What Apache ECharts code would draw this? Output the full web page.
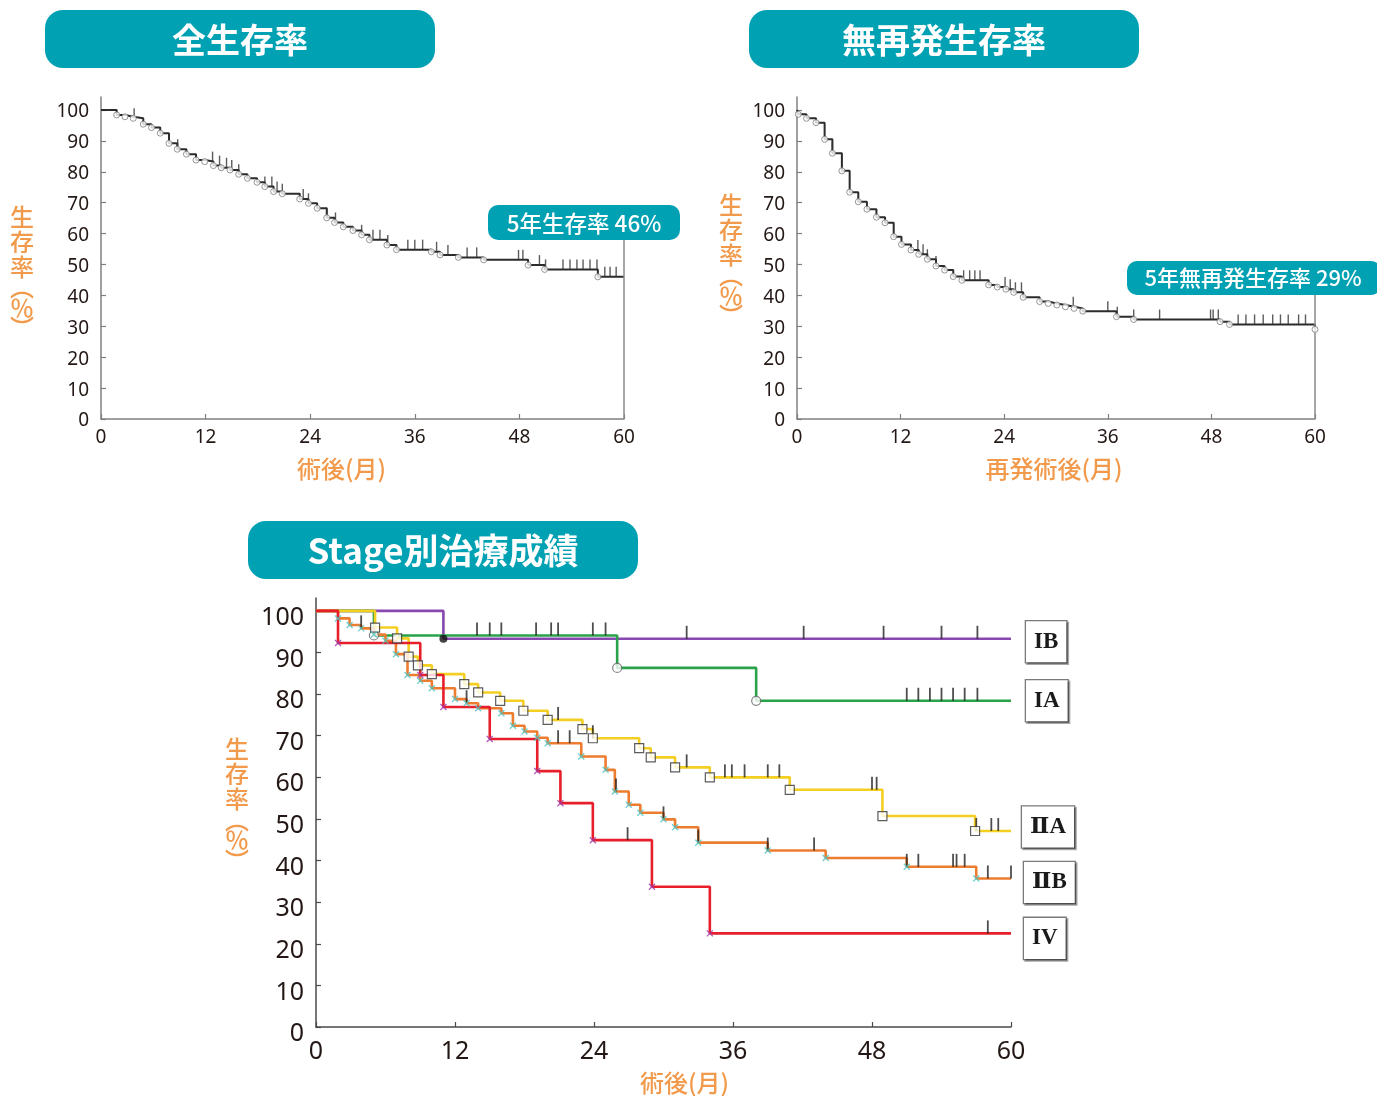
<!DOCTYPE html>
<html>
<head>
<meta charset="utf-8">
<title>生存率</title>
<script src="https://cdn.jsdelivr.net/npm/echarts@6/dist/echarts.min.js"></script>
<style>
  html, body { margin: 0; padding: 0; background: #ffffff; }
  #chart { width: 1377px; height: 1096px; }
</style>
</head>
<body>
<div id="chart"></div>
<script>
// ---- 全生存率 (months after surgery, survival %) ----
const osTimes = [1.8, 2.75, 3.7, 4.85, 5.8, 6.8, 7.8, 8.75, 9.8, 10.9, 11.9, 12.9, 13.8, 14.8, 15.8, 16.8, 17.9, 18.8, 19.8, 20.8, 22.8, 23.8, 24.8, 25.9, 26.8, 27.8, 28.9, 29.9, 30.8, 32.8, 33.9, 37.9, 38.9, 41.0, 43.9, 49.0, 50.9, 57.0];
const osSurv  = [98.4, 97.8, 97.3, 95.4, 94.3, 92.5, 89.2, 87.3, 85.7, 83.8, 83.3, 82.0, 81.3, 80.6, 79.2, 77.9, 76.6, 75.2, 73.6, 72.9, 71.2, 69.8, 68.2, 65.1, 63.6, 62.2, 61.0, 59.6, 58.0, 56.3, 54.8, 54.1, 53.1, 52.3, 51.5, 49.8, 48.4, 46.0];
const osCensor = [3.8, 8.8, 12.8, 13.6, 14.4, 15.0, 15.8, 18.8, 19.6, 20.2, 20.8, 23.2, 23.8, 25.9, 26.9, 29.9, 31.2, 32.0, 32.9, 35.2, 36.0, 36.9, 38.5, 39.8, 42.0, 43.1, 47.9, 48.4, 50.3, 51.0, 53.0, 53.8, 54.6, 55.3, 56.1, 56.9, 57.8, 58.4, 59.1];
const os5y = 46;

// ---- 無再発生存率 (months after recurrence surgery) ----
const rfsTimes = [0.15, 1.1, 2.2, 3.2, 4.1, 5.2, 6.1, 7.1, 8.1, 9.2, 10.2, 11.2, 12.1, 13.2, 14.1, 15.1, 16.1, 17.1, 18.1, 19.1, 22.2, 23.2, 24.2, 25.1, 26.2, 28.1, 29.1, 30.1, 31.1, 32.1, 33.1, 37.0, 39.0, 49.0, 50.1, 60];
const rfsSurv  = [98.6, 97.3, 95.9, 90.5, 86.0, 80.3, 73.4, 70.3, 67.9, 65.3, 63.5, 59.0, 56.5, 54.7, 53.3, 51.7, 49.5, 48.2, 46.1, 44.9, 43.4, 42.7, 42.0, 41.0, 39.4, 38.0, 37.4, 36.9, 36.3, 35.8, 34.9, 33.1, 32.2, 31.5, 30.6, 29.0];
const rfsCensor = [4.1, 14.0, 14.6, 15.1, 16.1, 19.3, 20.0, 20.6, 21.2, 24.1, 24.7, 25.3, 26.0, 32.0, 36.0, 37.1, 39.0, 42.0, 47.9, 48.2, 48.8, 51.1, 52.0, 53.0, 54.0, 55.1, 56.0, 56.9, 58.1, 58.9];
const rfs5y = 29;

// ---- Stage別 ----
const ibTimes = [11.0];
const ibSurv  = [93.3];
const ibCensor = [32.0, 42.1, 49.0, 54.0, 57.1];

const iaTimes = [5.0, 26.0, 38.0];
const iaSurv  = [94.1, 86.3, 78.4];
const iaCensor = [13.9, 15.0, 16.0, 19.0, 20.3, 20.9, 23.9, 25.0, 51.0, 52.0, 53.0, 54.0, 55.0, 56.0, 57.1];

const iiaTimes = [5.1, 7.0, 8.0, 8.8, 10.0, 12.8, 14.0, 15.9, 17.9, 20.0, 23.0, 23.9, 27.9, 28.9, 31.0, 34.0, 40.9, 48.9, 56.9];
const iiaSurv  = [96.0, 93.4, 89.0, 86.9, 84.8, 82.4, 80.4, 78.4, 76.0, 73.8, 71.6, 69.4, 67.0, 64.8, 62.4, 60.0, 57.0, 50.7, 47.1];
const iiaCensor = [20.9, 23.9, 32.0, 35.3, 35.9, 37.0, 39.0, 40.0, 48.0, 48.4, 57.0, 58.3, 58.9];

const iibTimes = [1.9, 2.9, 3.9, 5.0, 6.0, 6.9, 7.9, 9.0, 10.0, 12.0, 13.0, 14.0, 16.0, 17.0, 18.0, 19.1, 20.0, 22.9, 25.0, 25.8, 27.0, 28.0, 30.0, 31.0, 33.0, 39.0, 44.0, 51.0, 57.0];
const iibSurv  = [98.2, 96.6, 95.8, 94.3, 92.8, 89.6, 84.6, 83.2, 81.4, 78.8, 77.8, 76.6, 75.4, 72.4, 71.0, 69.5, 68.2, 65.0, 61.8, 56.6, 53.4, 51.5, 49.9, 48.0, 44.3, 42.4, 40.6, 38.5, 35.7];
const iibCensor = [3.9, 13.0, 20.9, 21.9, 25.9, 30.0, 33.0, 39.0, 43.0, 51.0, 52.0, 55.0, 55.3, 56.0, 58.0, 60.0];

const ivTimes = [1.9, 9.0, 11.0, 15.0, 19.1, 21.1, 23.9, 29.0, 34.0];
const ivSurv  = [92.3, 84.6, 76.9, 69.2, 61.5, 53.8, 44.9, 33.7, 22.5];
const ivCensor = [26.9, 58.0];

const monthTicks = [0, 12, 24, 36, 48, 60];
const pctTicks = [0, 10, 20, 30, 40, 50, 60, 70, 80, 90, 100];

// ---- helpers ----
const END = 60;
function kmPath(times, surv) {
  const pts = [[0, 100]];
  times.forEach((t, i) => pts.push([t, surv[i]]));
  if (times[times.length - 1] < END) pts.push([END, surv[surv.length - 1]]);
  return pts;
}
function survAt(times, surv, t) {
  let v = 100;
  for (let i = 0; i < times.length; i++) if (times[i] <= t) v = surv[i];
  return v;
}
function eventPoints(times, surv) {
  return times.map((t, i) => [t, surv[i]]);
}
function censorPoints(times, surv, cens) {
  return cens.map(t => [t, survAt(times, surv, t)]);
}

const TEAL = '#00a1b3';
const ORANGE = '#f29a4b';
const INK = '#231815';
const CJK = '"Noto Sans CJK JP", "Noto Sans", sans-serif';
const NUM = '"Noto Sans", "Noto Sans CJK JP", sans-serif';
const SERIF = '"Liberation Serif", "DejaVu Serif", serif';

const yTitle = '{a|生}\n{a|存}\n{a|率}\n{p|︵}\n{a|％}\n{p|︶}';
function yName(fs, pad) {
  return {
    color: ORANGE, fontSize: fs, fontFamily: CJK, align: 'center', padding: pad,
    rich: {
      a: { color: ORANGE, fontSize: fs, lineHeight: fs + 1, fontFamily: CJK, fontWeight: 500, align: 'center' },
      p: { color: ORANGE, fontSize: fs, lineHeight: 16, fontFamily: CJK, fontWeight: 500, align: 'center' }
    }
  };
}

function xAxis(gridIndex, name, fs, labelMargin, nameGap, namePad, axisColor) {
  return {
    type: 'value', gridIndex, min: 0, max: 60, interval: 12,
    axisLine: { show: true, lineStyle: { color: axisColor, width: 1.5 } },
    axisTick: { show: true, inside: true, length: 5, lineStyle: { color: axisColor, width: 1.2 } },
    axisLabel: { color: INK, fontSize: fs, fontFamily: NUM, margin: labelMargin,
                 customValues: monthTicks },
    splitLine: { show: false },
    name, nameLocation: 'middle', nameGap,
    nameTextStyle: { color: ORANGE, fontSize: 24, fontFamily: CJK, fontWeight: 500, padding: namePad }
  };
}
// labelDrop: how far the tick numbers sit below their tick
function yAxis(gridIndex, max, fs, nameGap, namePad, axisColor, labelDrop) {
  return {
    type: 'value', gridIndex, min: 0, max, interval: 10,
    axisLine: { show: true, lineStyle: { color: axisColor, width: 1.5 } },
    axisTick: { show: true, inside: true, length: 5, lineStyle: { color: axisColor, width: 1.2 },
                customValues: pctTicks },
    axisLabel: { color: INK, fontSize: fs, fontFamily: NUM, margin: 12,
                 verticalAlign: 'top', lineHeight: labelDrop * 2,
                 customValues: pctTicks },
    splitLine: { show: false },
    name: yTitle, nameLocation: 'middle', nameGap, nameRotate: 0,
    nameTextStyle: yName(24, namePad)
  };
}

// single-curve KM (black line, open circles for events, vertical censor marks)
function kmMono(idx, times, surv, cens, lineTop) {
  return [
    {
      type: 'line', xAxisIndex: idx, yAxisIndex: idx, step: 'end',
      data: kmPath(times, surv), showSymbol: false, silent: true,
      lineStyle: { color: '#2b2b2b', width: 2 }, z: 3,
      markLine: {
        silent: true, symbol: 'none', label: { show: false },
        lineStyle: { color: '#8a8a8a', width: 1.5, type: 'solid' },
        data: [[{ coord: [END, 0] }, { coord: [END, lineTop] }]]
      }
    },
    {
      type: 'scatter', xAxisIndex: idx, yAxisIndex: idx, silent: true,
      data: censorPoints(times, surv, cens),
      symbol: 'rect', symbolSize: [1.4, 10], symbolOffset: [0, '-50%'],
      itemStyle: { color: '#333' }, z: 4
    },
    {
      type: 'scatter', xAxisIndex: idx, yAxisIndex: idx, silent: true,
      data: eventPoints(times, surv),
      symbol: 'circle', symbolSize: 6,
      itemStyle: { color: '#ffffff', borderColor: '#7d7d7d', borderWidth: 1 }, z: 5
    }
  ];
}

const CROSS = 'path://M0,0L10,10M10,0L0,10';
function stageSeries(name, color, times, surv, cens, marker, labelOffset) {
  return [
    {
      name, type: 'line', xAxisIndex: 2, yAxisIndex: 2, step: 'end',
      data: kmPath(times, surv), showSymbol: false, silent: true,
      lineStyle: { color, width: 2.6 }, z: 3,
      endLabel: {
        show: true, formatter: p => p.seriesName, distance: 15, offset: labelOffset,
        color: '#1a1a1a', fontFamily: SERIF, fontSize: 23, fontWeight: 'bold',
        backgroundColor: '#ffffff', borderColor: '#7a7a7a', borderWidth: 1.3,
        padding: [10, 8, 8, 8],
        shadowColor: 'rgba(0,0,0,0.35)', shadowOffsetX: 1.5, shadowOffsetY: 1.5, shadowBlur: 0
      }
    },
    {
      type: 'scatter', xAxisIndex: 2, yAxisIndex: 2, silent: true,
      data: censorPoints(times, surv, cens),
      symbol: 'rect', symbolSize: [1.8, 13], symbolOffset: [0, '-50%'],
      itemStyle: { color: '#222' }, z: 4
    },
    Object.assign({
      type: 'scatter', xAxisIndex: 2, yAxisIndex: 2, silent: true,
      data: eventPoints(times, surv), z: 5
    }, marker)
  ];
}

const option = {
  animation: false,
  backgroundColor: '#ffffff',
  grid: [
    { left: 101, top: 97, width: 523, height: 322, outerBoundsMode: 'none' },
    { left: 797, top: 97, width: 518, height: 322, outerBoundsMode: 'none' },
    { left: 316, top: 598, width: 695, height: 429, outerBoundsMode: 'none' }
  ],
  xAxis: [
    xAxis(0, '術後(月)', 19, 9, 38, [0, 42, 0, 0], '#808080'),
    xAxis(1, '再発術後(月)', 19, 9, 38, [0, 4, 0, 0], '#808080'),
    xAxis(2, '術後(月)', 25, 12, 44, [0, 0, 0, 42], '#4a4a4a')
  ],
  yAxis: [
    yAxis(0, 104.2, 19, 79, [24, 0, 0, 0], '#808080', 2),
    yAxis(1, 104.2, 19, 66, [0, 0, 0, 0], '#808080', 2),
    yAxis(2, 103.1, 25, 79, [0, 0, 20, 0], '#4a4a4a', 7)
  ],
  graphic: [
    { type: 'rect', shape: { x: 45, y: 10, width: 390, height: 58, r: 18 }, style: { fill: TEAL } },
    { type: 'text', style: { text: '全生存率', x: 240, y: 40, fill: '#fff', fontSize: 34, fontWeight: 'bold', fontFamily: CJK, align: 'center', verticalAlign: 'middle' } },
    { type: 'rect', shape: { x: 749, y: 10, width: 390, height: 58, r: 18 }, style: { fill: TEAL } },
    { type: 'text', style: { text: '無再発生存率', x: 944, y: 40, fill: '#fff', fontSize: 34, fontWeight: 'bold', fontFamily: CJK, align: 'center', verticalAlign: 'middle' } },
    { type: 'rect', shape: { x: 248, y: 521, width: 390, height: 58, r: 18 }, style: { fill: TEAL } },
    { type: 'text', style: { text: 'Stage別治療成績', x: 443, y: 551, fill: '#fff', fontSize: 35, fontWeight: 'bold', fontFamily: CJK, align: 'center', verticalAlign: 'middle' } },

    { type: 'rect', shape: { x: 488, y: 205, width: 192, height: 35, r: 10 }, style: { fill: TEAL } },
    { type: 'text', style: { text: '5年生存率 ' + os5y + '%', x: 584, y: 223, fill: '#fff', fontSize: 22.5, fontWeight: 500, fontFamily: CJK, align: 'center', verticalAlign: 'middle' } },
    { type: 'rect', shape: { x: 1127, y: 261, width: 254, height: 34, r: 10 }, style: { fill: TEAL } },
    { type: 'text', style: { text: '5年無再発生存率 ' + rfs5y + '%', x: 1253, y: 278, fill: '#fff', fontSize: 22, fontWeight: 500, fontFamily: CJK, align: 'center', verticalAlign: 'middle' } }
  ],
  series: [].concat(
    kmMono(0, osTimes, osSurv, osCensor, 57.9),
    kmMono(1, rfsTimes, rfsSurv, rfsCensor, 40.1),
    stageSeries('IB', '#8748b0', ibTimes, ibSurv, ibCensor,
      { symbol: 'circle', symbolSize: 8, itemStyle: { color: '#111' } }, [0, 3]),
    stageSeries('IA', '#2aa24a', iaTimes, iaSurv, iaCensor,
      { symbol: 'circle', symbolSize: 9, itemStyle: { color: '#fff', borderColor: '#666', borderWidth: 1.2 } }, [0, 0]),
    stageSeries('ⅡA', '#f4cf22', iiaTimes, iiaSurv, iiaCensor,
      { symbol: 'rect', symbolSize: 9, itemStyle: { color: '#fff', borderColor: '#333', borderWidth: 1.2 } }, [-4, -4]),
    stageSeries('ⅡB', '#ec7c30', iibTimes, iibSurv, iibCensor,
      { symbol: CROSS, symbolSize: 6, itemStyle: { color: 'rgba(0,0,0,0)', borderColor: '#4fc4c2', borderWidth: 1.4 } }, [-2, 4]),
    stageSeries('IV', '#e61f2b', ivTimes, ivSurv, ivCensor,
      { symbol: CROSS, symbolSize: 6, itemStyle: { color: 'rgba(0,0,0,0)', borderColor: '#a03aa8', borderWidth: 1.4 } }, [-2, 5])
  )
};

const chart = echarts.init(document.getElementById('chart'), null, { renderer: 'canvas' });
chart.setOption(option);
</script>
</body>
</html>
